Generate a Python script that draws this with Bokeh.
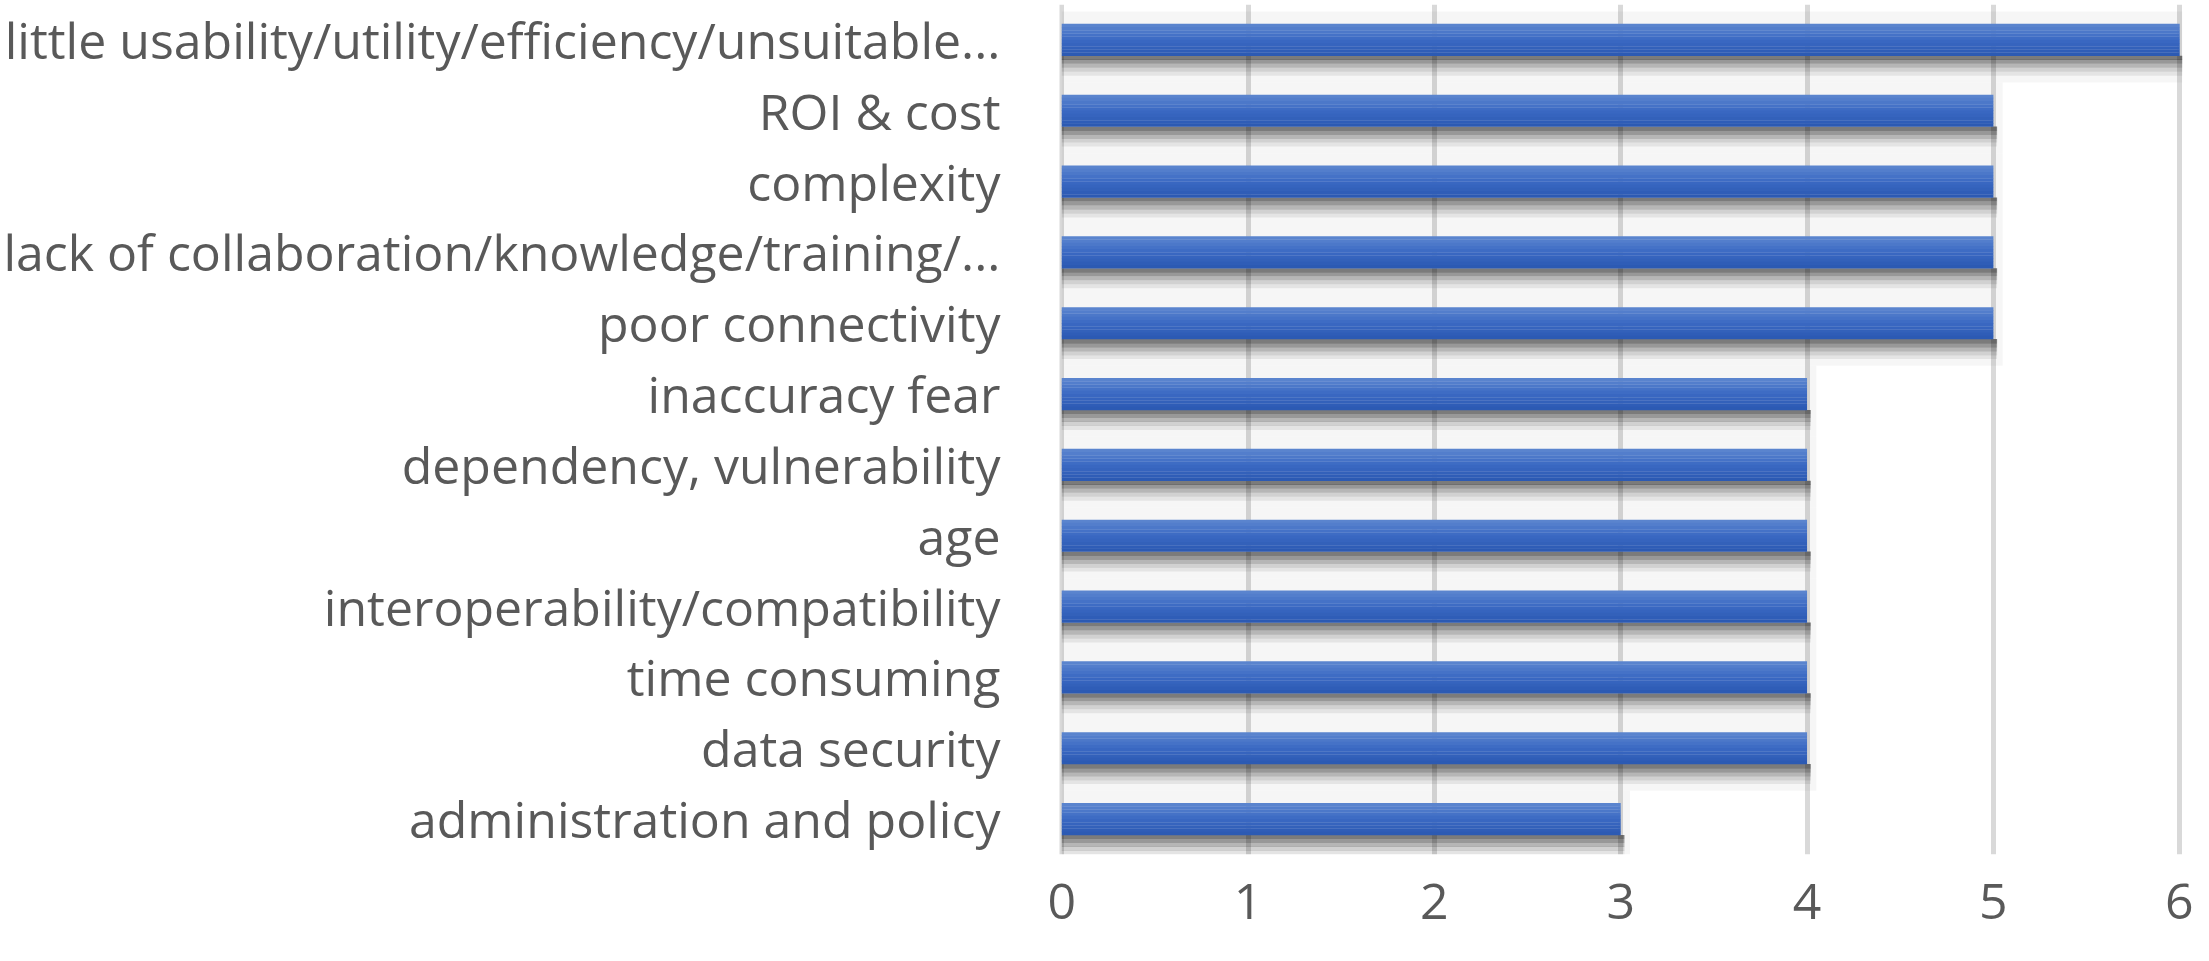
from bokeh.plotting import figure
from bokeh.models import Range1d, FactorRange, ColumnDataSource
from bokeh.transform import dodge
from bokeh.embed import file_html
from bokeh.resources import INLINE

# ---- data ----
categories = [
    "little usability/utility/efficiency/unsuitable...",
    "ROI & cost",
    "complexity",
    "lack of collaboration/knowledge/training/...",
    "poor connectivity",
    "inaccuracy fear",
    "dependency, vulnerability",
    "age",
    "interoperability/compatibility",
    "time consuming",
    "data security",
    "administration and policy",
]
counts = [6, 5, 5, 5, 5, 4, 4, 4, 4, 4, 4, 3]
x_ticks = [0, 1, 2, 3, 4, 5, 6]

# ---- styling helpers ----
FONT = "Open Sans"
TEXT_COLOR = "#595959"


def mix(c1, c2, t):
    a = [int(c1[i:i + 2], 16) for i in (1, 3, 5)]
    b = [int(c2[i:i + 2], 16) for i in (1, 3, 5)]
    return "#" + "".join("%02x" % round(a[k] + (b[k] - a[k]) * t) for k in range(3))


src = ColumnDataSource(dict(
    cat=categories,
    val=counts,
    halo=[v + 0.05 for v in counts],
    shadow=[v + 0.02 for v in counts],
))

p = figure(
    width=2193, height=945,
    y_range=FactorRange(*categories[::-1]),
    x_range=Range1d(-0.012, 6.015),
    output_backend="svg", toolbar_location=None,
    min_border_left=1050, min_border_right=11,
    min_border_top=4, min_border_bottom=91,
)
p.outline_line_color = None
p.background_fill_color = "white"
p.border_fill_color = "white"

p.ygrid.visible = False
p.xgrid.grid_line_color = "#d9d9d9"
p.xgrid.grid_line_width = 5

BAR_H = 0.45

# soft halo around each bar (emulating blurred shadow)
p.hbar(y=dodge("cat", -0.1, range=p.y_range), left=0, right="halo", height=1.0,
       source=src, fill_color="black", fill_alpha=0.035, line_color=None)

# dark drop shadow below bars, fading downwards
layer_h = 0.056
for k, a in enumerate([0.5, 0.38, 0.26, 0.15, 0.07]):
    off = -BAR_H / 2 - layer_h * (k + 0.5)
    p.hbar(y=dodge("cat", off, range=p.y_range), left=0, right="shadow",
           height=layer_h + 0.002, source=src,
           fill_color="black", fill_alpha=a, line_color=None)

# bars with vertical gradient (top lighter, bottom darker)
N = 10
top_c, mid_c, bot_c = "#5a84ce", "#3b69c3", "#2c5ab3"
for i in range(N):
    t = i / (N - 1)
    col = mix(top_c, mid_c, t * 2) if t <= 0.5 else mix(mid_c, bot_c, (t - 0.5) * 2)
    off = BAR_H / 2 - (i + 0.5) * BAR_H / N
    p.hbar(y=dodge("cat", off, range=p.y_range), left=0, right="val",
           height=BAR_H / N + 0.004, source=src,
           fill_color=col, line_color=None)

for ax in (p.xaxis, p.yaxis):
    ax.axis_line_color = None
    ax.major_tick_line_color = None
    ax.minor_tick_line_color = None
    ax.major_label_text_font = FONT
    ax.major_label_text_font_size = "50px"
    ax.major_label_text_color = TEXT_COLOR

p.xaxis.ticker = x_ticks
p.xaxis.major_label_standoff = 23
p.yaxis.major_label_standoff = 53

open("out.html", "w").write(file_html(p, INLINE))
